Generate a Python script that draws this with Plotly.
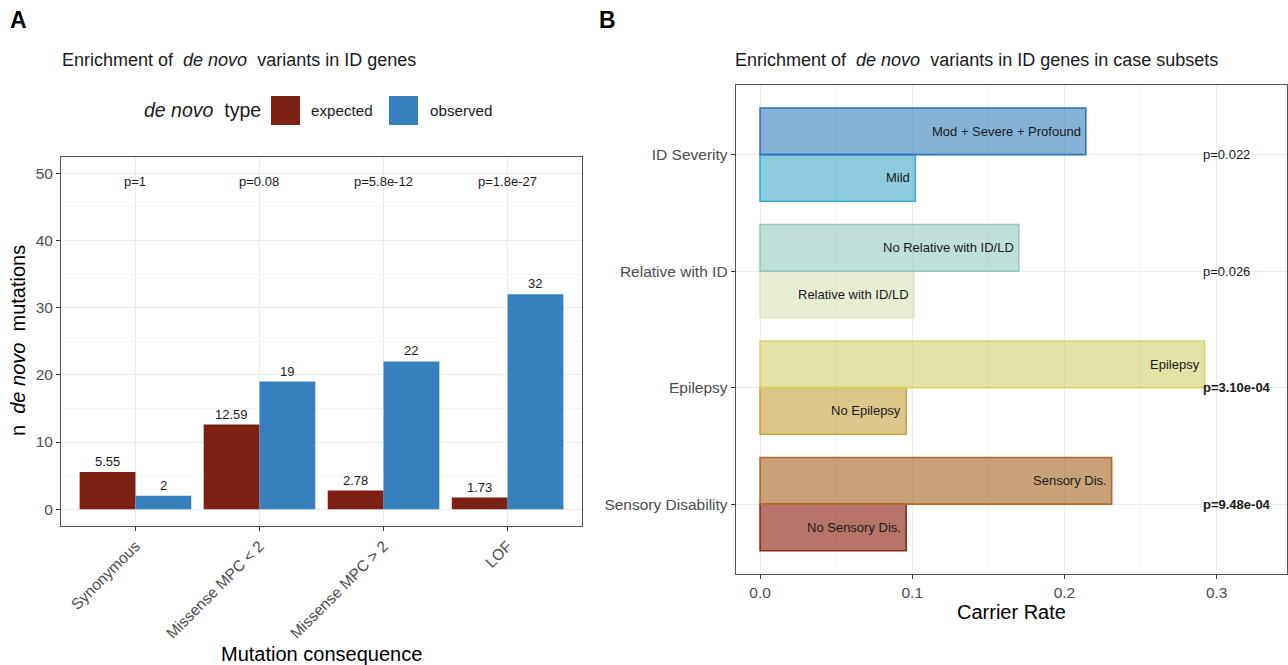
import plotly.graph_objects as go

# ---------------- Data: panel A ----------------
consequences = ["Synonymous", "Missense MPC < 2", "Missense MPC > 2", "LOF"]
expected = [5.55, 12.59, 2.78, 1.73]
observed = [2, 19, 22, 32]
expected_labels = ["5.55", "12.59", "2.78", "1.73"]
observed_labels = ["2", "19", "22", "32"]
pvals_A = ["p=1", "p=0.08", "p=5.8e-12", "p=1.8e-27"]

# ---------------- Data: panel B ----------------
groups = ["ID Severity", "Relative with ID", "Epilepsy", "Sensory Disability"]
top_labels = ["Mod + Severe + Profound", "No Relative with ID/LD", "Epilepsy", "Sensory Dis."]
top_rates = [0.214, 0.170, 0.292, 0.231]
bottom_labels = ["Mild", "Relative with ID/LD", "No Epilepsy", "No Sensory Dis."]
bottom_rates = [0.102, 0.101, 0.096, 0.096]
pvals_B = ["p=0.022", "p=0.026", "p=3.10e-04", "p=9.48e-04"]
pvals_B_bold = [False, False, True, True]

# ---------------- Styles ----------------
FONT = "Liberation Sans, Arial, Helvetica, sans-serif"
RED = "#7D2114"
BLUE = "#3681BD"
TICK = "#4D4D4D"
GRID = "#EBEBEB"
GRID_MINOR = "#F3F3F3"

top_fill = ["rgba(53,127,188,0.6)", "rgba(148,203,192,0.6)", "rgba(210,208,105,0.6)", "rgba(165,98,30,0.6)"]
top_line = ["#2D74B5", "#93CBBF", "#D8D46B", "#B26A2A"]
bottom_fill = ["rgba(67,168,197,0.6)", "rgba(217,227,182,0.6)", "rgba(197,162,60,0.6)", "rgba(133,25,3,0.6)"]
bottom_line = ["#36AED5", "#DCE5BA", "#CBA540", "#8B2A1D"]

W, H = 1288, 665
def px_x(v):
    return v / W
def px_y(v):
    return 1 - v / H

fig = go.Figure()

# Panel A bars
fig.add_trace(go.Bar(x=consequences, y=expected, name="expected", marker=dict(color=RED, line=dict(width=0)),
                     offset=-0.45, width=0.45, xaxis="x", yaxis="y", showlegend=False))
fig.add_trace(go.Bar(x=consequences, y=observed, name="observed", marker=dict(color=BLUE, line=dict(width=0)),
                     offset=0.0, width=0.45, xaxis="x", yaxis="y", showlegend=False))

# Panel B bars
fig.add_trace(go.Bar(y=groups, x=bottom_rates, orientation="h",
                     marker=dict(color=bottom_fill, line=dict(color=bottom_line, width=1.6)),
                     offset=-0.4, width=0.4, xaxis="x2", yaxis="y2", showlegend=False))
fig.add_trace(go.Bar(y=groups, x=top_rates, orientation="h",
                     marker=dict(color=top_fill, line=dict(color=top_line, width=1.6)),
                     offset=0.0, width=0.4, xaxis="x2", yaxis="y2", showlegend=False))

annotations = []
LBL = dict(family=FONT, size=13, color="#1a1a1a")

# Panel A value labels
for i, c in enumerate(consequences):
    annotations.append(dict(x=i - 0.225, y=expected[i], xref="x", yref="y", text=expected_labels[i],
                            showarrow=False, yanchor="bottom", yshift=1, font=LBL))
    annotations.append(dict(x=i + 0.225, y=observed[i], xref="x", yref="y", text=observed_labels[i],
                            showarrow=False, yanchor="bottom", yshift=1, font=LBL))
    annotations.append(dict(x=i, y=50, xref="x", yref="y", text=pvals_A[i],
                            showarrow=False, yanchor="top", yshift=1, font=LBL))

# Panel B labels
cat_order_B = list(reversed(groups))
for i, g in enumerate(groups):
    idx = cat_order_B.index(g)
    annotations.append(dict(x=top_rates[i], y=idx + 0.2, xref="x2", yref="y2", text=top_labels[i],
                            showarrow=False, xanchor="right", xshift=-3, font=LBL))
    annotations.append(dict(x=bottom_rates[i], y=idx - 0.2, xref="x2", yref="y2", text=bottom_labels[i],
                            showarrow=False, xanchor="right", xshift=-3, font=LBL))
    ptxt = "<b>%s</b>" % pvals_B[i] if pvals_B_bold[i] else pvals_B[i]
    annotations.append(dict(x=0.29, y=idx, xref="x2", yref="y2", text=ptxt,
                            showarrow=False, xanchor="left", font=LBL))

NB = "\u00a0"
# Panel letters and titles
annotations += [
    dict(x=px_x(8), y=px_y(20), xref="paper", yref="paper", text="<b>A</b>", showarrow=False,
         xanchor="left", yanchor="middle", font=dict(family=FONT, size=23, color="#000")),
    dict(x=px_x(597), y=px_y(20), xref="paper", yref="paper", text="<b>B</b>", showarrow=False,
         xanchor="left", yanchor="middle", font=dict(family=FONT, size=23, color="#000")),
    dict(x=px_x(60), y=px_y(60), xref="paper", yref="paper",
         text="Enrichment of" + NB + " <i>de novo</i>" + NB + " variants in ID genes", showarrow=False,
         xanchor="left", yanchor="middle", font=dict(family=FONT, size=18, color="#1a1a1a")),
    dict(x=px_x(733), y=px_y(60), xref="paper", yref="paper",
         text="Enrichment of" + NB + " <i>de novo</i>" + NB + " variants in ID genes in case subsets", showarrow=False,
         xanchor="left", yanchor="middle", font=dict(family=FONT, size=18, color="#1a1a1a")),
    # legend
    dict(x=px_x(142), y=px_y(110), xref="paper", yref="paper",
         text="<i>de novo</i>" + NB + " type", showarrow=False,
         xanchor="left", yanchor="middle", font=dict(family=FONT, size=19.5, color="#1a1a1a")),
    dict(x=px_x(309), y=px_y(111), xref="paper", yref="paper", text="expected", showarrow=False,
         xanchor="left", yanchor="middle", font=dict(family=FONT, size=15.2, color="#1a1a1a")),
    dict(x=px_x(428), y=px_y(111), xref="paper", yref="paper", text="observed", showarrow=False,
         xanchor="left", yanchor="middle", font=dict(family=FONT, size=15.2, color="#1a1a1a")),
    # axis titles
    dict(x=px_x(321.5), y=px_y(654), xref="paper", yref="paper", text="Mutation consequence", showarrow=False,
         xanchor="center", yanchor="middle", font=dict(family=FONT, size=20, color="#000")),
    dict(x=px_x(18), y=px_y(341), xref="paper", yref="paper", text="n" + NB + " <i>de novo</i>" + NB + " mutations",
         showarrow=False, textangle=-90, xanchor="center", yanchor="middle",
         font=dict(family=FONT, size=20, color="#000")),
    dict(x=px_x(1011), y=px_y(612), xref="paper", yref="paper", text="Carrier Rate", showarrow=False,
         xanchor="center", yanchor="middle", font=dict(family=FONT, size=20, color="#000")),
]

shapes = [
    dict(type="rect", xref="paper", yref="paper", x0=px_x(271), x1=px_x(300), y0=px_y(125), y1=px_y(96),
         fillcolor=RED, line=dict(width=0)),
    dict(type="rect", xref="paper", yref="paper", x0=px_x(389), x1=px_x(418), y0=px_y(125), y1=px_y(96),
         fillcolor=BLUE, line=dict(width=0)),
]

tickfont = dict(family=FONT, size=15.5, color=TICK)
axis_common = dict(showline=True, mirror=True, linecolor="#555555", linewidth=1, ticks="outside",
                   ticklen=4, tickcolor="#333333", tickwidth=1, gridcolor=GRID, gridwidth=1.2,
                   zeroline=False, tickfont=tickfont, fixedrange=True)

fig.update_layout(
    width=W, height=H, margin=dict(l=0, r=0, t=0, b=0),
    paper_bgcolor="white", plot_bgcolor="white",
    barmode="overlay", showlegend=False,
    font=dict(family=FONT, color="#1a1a1a"),
    xaxis=dict(domain=[px_x(61), px_x(582)], type="category", range=[-0.6, 3.6],
               tickvals=consequences,
               ticktext=[c.replace("<", "&lt;").replace(">", "&gt;") for c in consequences],
               tickangle=-45, showgrid=True, anchor="y", **axis_common),
    yaxis=dict(domain=[px_y(526), px_y(156.5)], range=[-2.5, 52.5], dtick=10, tick0=0,
               showgrid=True, anchor="x",
               minor=dict(dtick=5, tick0=0, showgrid=True, gridcolor=GRID_MINOR, gridwidth=0.8, ticks=""),
               **axis_common),
    xaxis2=dict(domain=[px_x(735.7), px_x(1286.7)], range=[-0.016, 0.346], dtick=0.1, tick0=0,
                tickformat=".1f", showgrid=True, anchor="y2",
                minor=dict(dtick=0.05, tick0=0, showgrid=True, gridcolor=GRID_MINOR, gridwidth=0.8, ticks=""),
                **axis_common),
    yaxis2=dict(domain=[px_y(574), px_y(84.7)], type="category", categoryorder="array",
                categoryarray=cat_order_B, range=[-0.6, 3.6], showgrid=True, anchor="x2",
                **axis_common),
    annotations=annotations,
    shapes=shapes,
)

fig.write_html("out.html", config={"displayModeBar": False},
               post_script="document.body.style.margin='0px';document.body.style.overflow='hidden';")
